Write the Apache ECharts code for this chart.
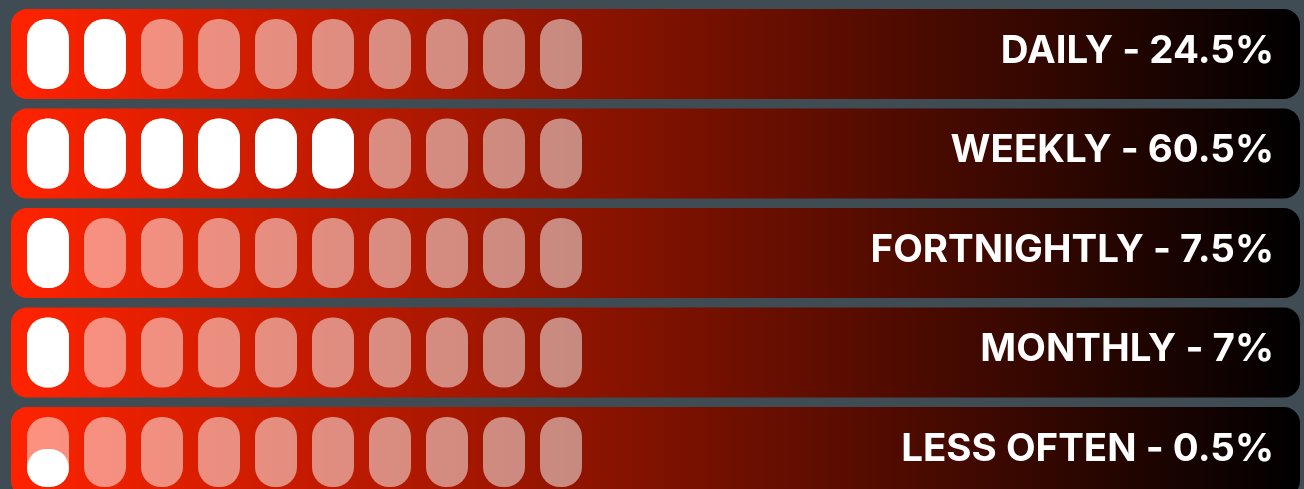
<!DOCTYPE html>
<html lang="en">
<head>
<meta charset="UTF-8">
<title>Frequency</title>
<script src="https://cdn.jsdelivr.net/npm/echarts@6/dist/echarts.min.js"></script>
<style>
  html, body { margin: 0; padding: 0; background: #3f4c53; }
  #main { width: 1304px; height: 489px; }
</style>
</head>
<body>
<div id="main"></div>
<script type="text/javascript">
var categories = ['DAILY', 'WEEKLY', 'FORTNIGHTLY', 'MONTHLY', 'LESS OFTEN'];
var percents = ['24.5%', '60.5%', '7.5%', '7%', '0.5%'];
// how much of each of the 10 cells is filled, per row (1 = full)
var cellFill = [
    [1, 1, 0, 0, 0, 0, 0, 0, 0, 0],
    [1, 1, 1, 1, 1, 1, 0, 0, 0, 0],
    [1, 0, 0, 0, 0, 0, 0, 0, 0, 0],
    [1, 0, 0, 0, 0, 0, 0, 0, 0, 0],
    [0.05, 0, 0, 0, 0, 0, 0, 0, 0, 0]
];

var myChart = echarts.init(document.getElementById('main'));

var cellData = [];
cellFill.forEach(function (row, r) {
    row.forEach(function (f, c) {
        cellData.push([c, r, f]);
    });
});

var CELL_W = 42, CELL_H = 70, ROW_H = 90;

function renderRow(params, api) {
    var r = api.value(1);
    var cs = params.coordSys;
    var cy = api.coord([0, r])[1];
    return {
        type: 'group',
        children: [{
            type: 'rect',
            shape: { x: cs.x, y: cy - ROW_H / 2, width: cs.width, height: ROW_H, r: 16 },
            style: {
                fill: new echarts.graphic.LinearGradient(0, 0, 1, 0, [
                    { offset: 0, color: '#ff2300' },
                    { offset: 1, color: '#000000' }
                ])
            }
        }, {
            type: 'text',
            style: {
                x: cs.x + cs.width - 26,
                y: cy - 3,
                text: categories[r] + ' - ' + percents[r],
                fill: '#ffffff',
                font: 'bold 38.5px Inter',
                align: 'right',
                verticalAlign: 'middle'
            }
        }]
    };
}

function renderCell(params, api) {
    var p = api.coord([api.value(0), api.value(1)]);
    var f = api.value(2);
    var x = p[0] - CELL_W / 2, y = p[1] - CELL_H / 2;
    var children = [{
        type: 'rect',
        shape: { x: x, y: y, width: CELL_W, height: CELL_H, r: 20 },
        style: { fill: 'rgba(255,255,255,0.5)' }
    }];
    if (f > 0) {
        var h = Math.max(38, CELL_H * f);
        children.push({
            type: 'rect',
            shape: { x: x, y: y + CELL_H - h, width: CELL_W, height: h, r: 20 },
            style: { fill: '#ffffff' }
        });
    }
    return { type: 'group', children: children };
}

var option = {
    backgroundColor: '#3f4c53',
    animation: false,
    grid: { left: 11, right: 4, top: 0, bottom: 0 },
    xAxis: { type: 'value', min: -37 / 57, max: 1252 / 57, show: false },
    yAxis: { type: 'value', inverse: true, min: -54 / 99.5, max: 435 / 99.5, show: false },
    series: [{
        type: 'custom',
        renderItem: renderRow,
        encode: { x: 0, y: 1 },
        data: categories.map(function (c, i) { return [0, i]; }),
        silent: true,
        z: 1
    }, {
        type: 'custom',
        renderItem: renderCell,
        encode: { x: 0, y: 1 },
        data: cellData,
        silent: true,
        z: 2
    }]
};

myChart.setOption(option);
</script>
</body>
</html>
